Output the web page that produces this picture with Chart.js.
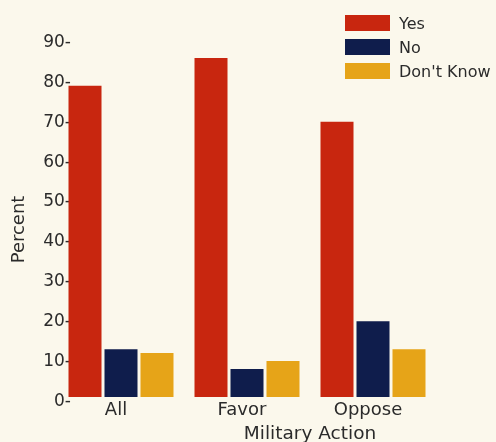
<!DOCTYPE html>
<html>
<head>
<meta charset="utf-8">
<script src="https://cdn.jsdelivr.net/npm/chart.js@4.4.0/dist/chart.umd.min.js"></script>
<style>
  html, body { margin: 0; padding: 0; background: #fbf8ec; }
  #chart { display: block; }
</style>
</head>
<body>
<canvas id="chart" width="496" height="442"></canvas>
<script>
// data
const categories = ['All', 'Favor', 'Oppose'];
const seriesNames = ['Yes', 'No', "Don't Know"];
const yesValues = [78, 85, 69];
const noValues = [12, 7, 19];
const dontKnowValues = [11, 9, 12];
const yMax = 90;
const yStep = 10;
const xTitle = 'Military Action';
const yTitle = 'Percent';

const colors = ['#c8260f', '#0f1d4c', '#e6a418'];
const textColor = '#2b2b2b';
const fontFamily = '"DejaVu Sans", sans-serif';

document.addEventListener('DOMContentLoaded', () => {
    const canvas = document.getElementById('chart');

    // axis titles and the legend box are drawn by hand
    const extrasPlugin = {
        id: 'extras',
        afterLayout(chart) {
            // let the y labels run a little into the plot, like the print
            const ys = chart.scales.y;
            ys.right += 13;
            ys.width += 13;
        },
        afterDraw(chart) {
            const ctx = chart.ctx;
            const xs = chart.scales.x;
            const ys = chart.scales.y;

            ctx.save();
            ctx.fillStyle = textColor;

            // y title, rotated
            ctx.font = `18px ${fontFamily}`;
            ctx.textAlign = 'center';
            ctx.textBaseline = 'middle';
            ctx.translate(19, ys.getPixelForValue(42));
            ctx.rotate(-Math.PI / 2);
            ctx.fillText(yTitle, 0, 0);
            ctx.setTransform(1, 0, 0, 1, 0, 0);

            // x title sits between Favor and Oppose
            const tx = (xs.getPixelForValue(1) + xs.getPixelForValue(2)) / 2;
            ctx.font = `18.5px ${fontFamily}`;
            ctx.textBaseline = 'alphabetic';
            ctx.fillText(xTitle, tx, 439);

            // legend, top right
            ctx.font = `16px ${fontFamily}`;
            ctx.textAlign = 'left';
            chart.data.datasets.forEach((ds, i) => {
                ctx.fillStyle = ds.backgroundColor;
                ctx.fillRect(345, 15 + i * 24, 45, 16);
                ctx.fillStyle = textColor;
                ctx.fillText(ds.label, 399, 29 + i * 24);
            });
            ctx.restore();
        }
    };

    new Chart(canvas.getContext('2d'), {
        type: 'bar',
        data: {
            labels: categories,
            datasets: [yesValues, noValues, dontKnowValues].map((values, i) => ({
                label: seriesNames[i],
                data: values,
                backgroundColor: colors[i],
                borderWidth: 0,
                categoryPercentage: 0.857,
                barPercentage: 0.917
            }))
        },
        options: {
            responsive: false,
            animation: false,
            layout: { padding: { top: 38, right: 60, left: 0, bottom: 0 } },
            plugins: {
                legend: { display: false },
                tooltip: { enabled: false }
            },
            scales: {
                x: {
                    grid: { display: false, drawTicks: false },
                    border: { display: false },
                    ticks: {
                        color: textColor,
                        padding: 3,
                        labelOffset: -5,
                        font: { family: fontFamily, size: 18 }
                    },
                    afterFit: (axis) => { axis.height = 45; }
                },
                y: {
                    min: 0,
                    max: yMax,
                    grid: { display: false, drawTicks: false },
                    border: { display: false },
                    ticks: {
                        stepSize: yStep,
                        color: textColor,
                        padding: 0,
                        labelOffset: 4.5,
                        font: { family: fontFamily, size: 17 },
                        callback: (v) => v + '-'
                    },
                    afterFit: (axis) => { axis.width = 58; }
                }
            }
        },
        plugins: [extrasPlugin]
    });
});
</script>
</body>
</html>
